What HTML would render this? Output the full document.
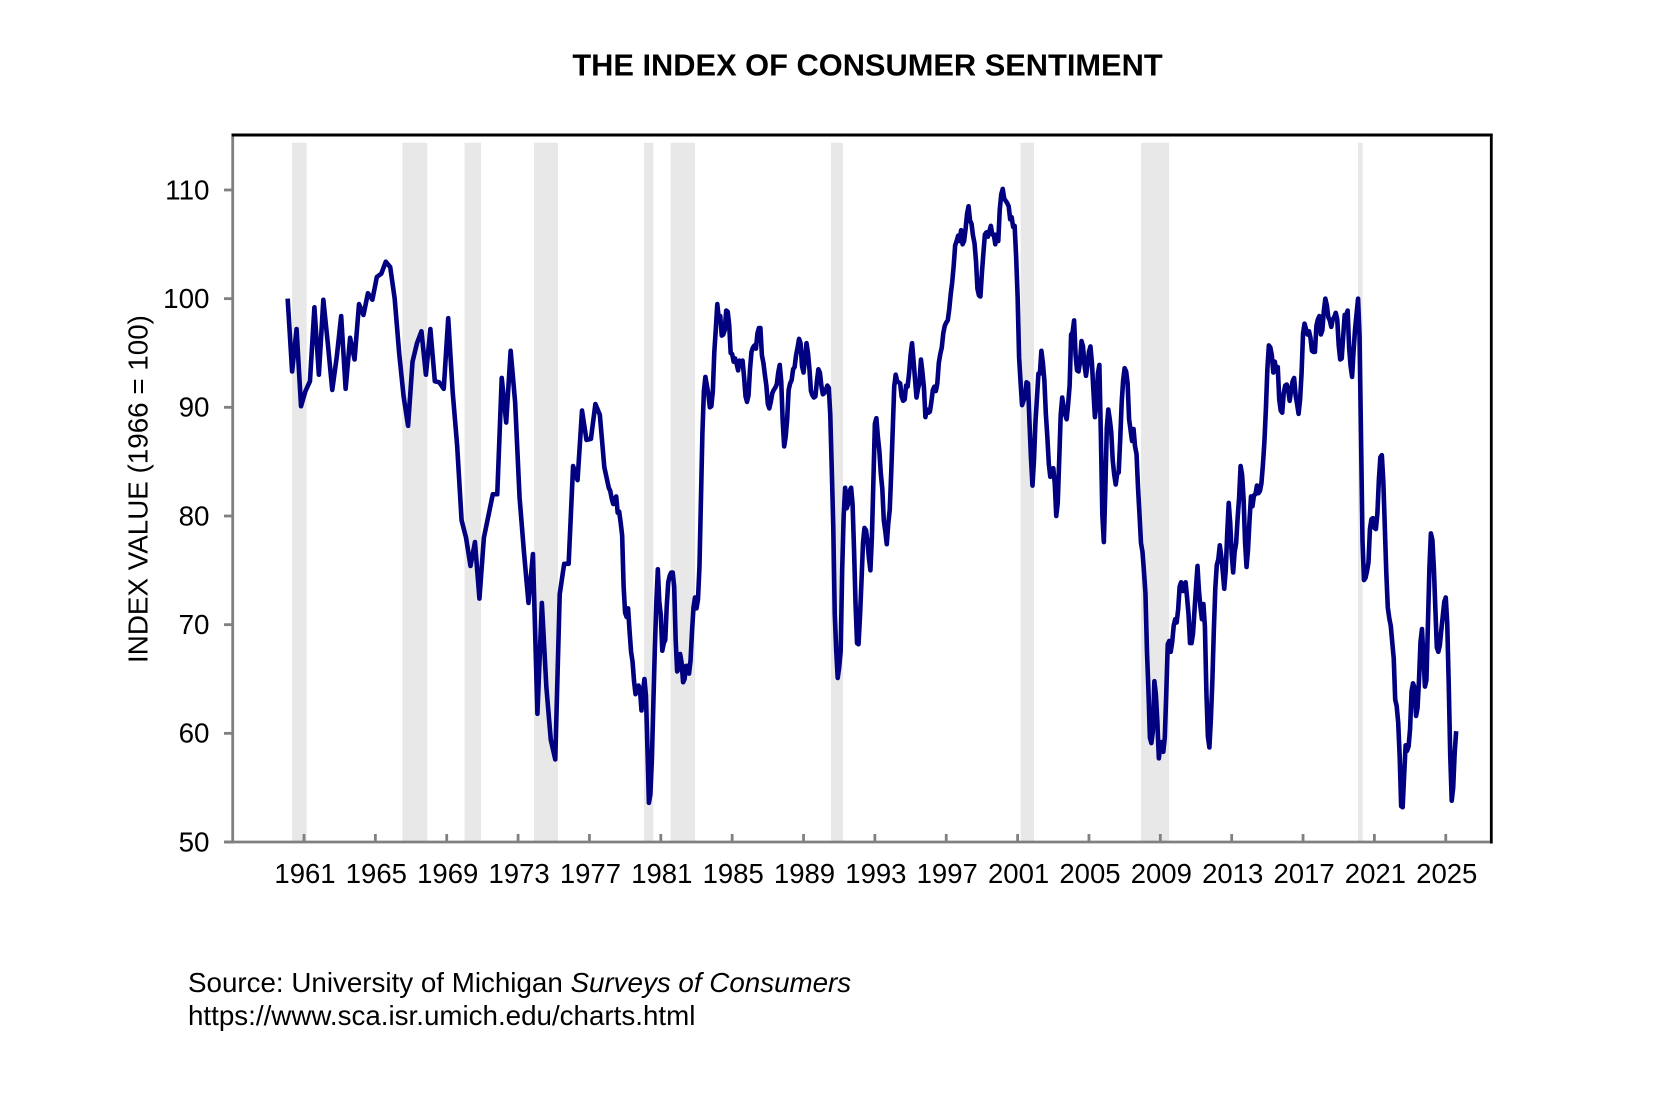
<!DOCTYPE html>
<html lang="en">
<head>
<meta charset="utf-8">
<title>The Index of Consumer Sentiment</title>
<style>
  html, body { margin: 0; padding: 0; background: #fff; }
  svg { display: block; font-family: "Liberation Sans", Arial, sans-serif; }
</style>
</head>
<body>
<svg id="chart" xmlns="http://www.w3.org/2000/svg" width="1672" height="1096" viewBox="0 0 1672 1096">
  <rect width="1672" height="1096" fill="#ffffff"/>
  <text x="867.5" y="75.5" text-anchor="middle" font-size="30.8" font-weight="700" fill="#000">THE INDEX OF CONSUMER SENTIMENT</text>
  <g id="bands"></g>
  <g id="axes"></g>
  <g id="series"></g>
  <text transform="translate(147.5,489) rotate(-90)" text-anchor="middle" font-size="27.8" fill="#000">INDEX VALUE (1966 = 100)</text>
  <text x="188" y="992" font-size="27.75" fill="#000">Source: University of Michigan <tspan font-style="italic">Surveys of Consumers</tspan></text>
  <text x="188" y="1025" font-size="27.75" fill="#000">https://www.sca.isr.umich.edu/charts.html</text>
</svg>
<script>
// Tick labels
const yearTicks = [1961,1965,1969,1973,1977,1981,1985,1989,1993,1997,2001,2005,2009,2013,2017,2021,2025];
const valueTicks = [50,60,70,80,90,100,110];

// Recession periods, decimal years
const recessionStarts = [1960.33,1966.51,1970.0,1973.89,1980.06,1981.55,1990.54,2001.17,2007.92,2020.08];
const recessionEnds   = [1961.15,1967.91,1970.92,1975.24,1980.58,1982.92,1991.21,2001.92,2009.49,2020.34];

// Index values, one per quarter from Feb 1960 to Feb 1978
const quarterlyValues = [
  100,93.3,97.2,90.1,91.5,92.4,99.2,93,99.9,95.9,91.6,94.6,98.4,91.7,96.4,94.4,
  99.5,98.5,100.5,99.9,102,102.3,103.4,102.9,100,95,91,88.3,94.2,95.9,97,93,
  97.2,92.4,92.3,91.7,98.2,91.4,86.5,79.6,78,75.4,77.6,72.4,78,80,82,82,
  92.7,88.6,95.2,90.5,81.7,76.6,72,76.5,61.8,72,64.3,59.4,57.6,72.8,75.6,75.6,
  84.6,83.3,89.7,87,87.1,90.3,89.3,84.5,82.6
];

// Index values, one per month from Mar 1978 to Aug 2025
const monthlyValues = [
  82.3,81.6,81.1,81.5,81.8,80.3,80.4,79.4,78.2,73.5,
  71.1,70.7,71.5,69.4,67.5,66.6,64.8,63.6,63.9,64.4,64.0,62.1,
  63.8,65.0,63.5,58.7,53.6,54.4,57.6,62.8,67.8,72.0,75.1,72.1,
  70.9,67.6,68.3,68.6,71.7,73.9,74.5,74.8,74.8,73.5,68.6,65.7,
  65.9,67.3,66.5,64.7,65.0,66.2,66.2,65.5,66.7,69.4,71.6,72.5,
  71.5,72.3,75.3,81.5,87.7,91.5,92.8,92.0,91.2,90.0,90.1,91.5,
  95.1,97.2,99.5,98.2,98.4,96.6,96.7,97.1,98.9,98.8,97.6,95.0,
  94.9,94.2,94.5,94.0,93.4,94.3,94.1,94.3,92.8,91.0,90.5,91.1,
  93.5,95.1,95.5,95.7,95.4,96.8,97.3,97.3,94.8,94.1,93.0,92.0,
  90.3,89.9,90.5,91.3,91.6,91.8,92.1,93.2,93.9,92.4,88.7,86.4,
  87.3,88.9,91.6,92.2,92.5,93.5,93.7,94.8,95.5,96.3,95.9,93.8,
  93.2,94.5,95.9,95.0,93.5,91.5,91.1,90.9,91.0,92.4,93.5,93.2,
  92.0,91.2,91.3,91.6,92.0,91.8,89.3,84.3,79.1,71.0,67.6,65.1,
  66.1,67.6,75.0,80.0,82.6,80.7,81.1,82.3,82.6,81.1,76.8,71.9,
  68.3,68.2,70.8,74.0,77.5,78.9,78.7,77.7,76.1,75.0,78.1,83.2,
  88.5,89.0,87.3,86.0,83.9,82.5,79.6,78.6,77.4,79.3,80.6,84.0,
  87.9,91.9,93.0,92.4,92.3,92.2,91.0,90.6,90.7,92.0,91.9,93.1,
  94.8,95.9,94.3,92.6,90.9,91.7,92.3,94.4,93.2,91.8,89.1,89.8,
  89.5,89.6,90.5,91.6,91.9,91.5,92.2,94.1,94.9,95.5,96.8,97.5,
  97.8,98.0,99.0,100.4,101.5,103.0,104.9,105.3,105.8,105.3,106.3,105.0,
  105.3,106.4,107.8,108.5,107.2,106.9,105.8,105.1,103.5,100.9,100.3,100.2,
  102.4,104.2,105.9,106.1,105.7,106.2,106.7,105.9,105.9,105.0,105.9,105.3,
  108.2,109.6,110.1,109.2,109.0,108.8,108.5,107.3,107.5,106.6,106.7,103.9,
  100.2,94.6,92.3,90.2,90.6,91.0,92.3,92.2,88.6,85.3,82.8,85.1,
  88.6,90.8,93.1,93.1,95.2,94.1,92.5,89.4,87.3,84.8,83.6,83.8,
  84.4,83.0,80.0,81.2,85.2,89.3,90.9,90.0,89.3,88.9,90.3,92.0,
  96.7,96.9,98.0,94.8,93.4,93.3,94.2,96.1,95.6,93.9,92.9,93.9,
  95.1,95.6,94.1,91.5,89.1,90.2,93.1,93.9,87.5,80.1,77.6,82.4,
  88.1,89.8,88.9,87.7,85.1,83.8,82.9,83.9,84.0,87.0,90.4,92.5,
  93.6,93.3,92.2,88.9,87.9,86.9,88.0,86.4,85.7,82.6,80.1,77.5,
  76.7,74.9,72.9,67.6,64.0,59.6,59.1,60.2,64.8,63.6,61.1,57.7,
  58.9,59.2,58.3,59.6,63.7,68.2,68.5,67.5,68.4,69.9,70.5,70.2,
  71.4,73.5,73.9,73.1,73.1,73.9,72.5,70.9,68.3,68.3,69.2,71.3,
  73.4,75.4,73.1,71.6,70.5,71.9,69.8,63.7,59.7,58.7,61.3,64.8,
  69.5,73.4,75.5,76.0,77.3,76.3,74.9,73.3,75.0,78.4,81.2,79.4,
  76.5,74.8,76.7,77.5,79.8,81.7,84.6,83.8,81.6,77.6,75.3,76.9,
  79.6,81.8,80.9,81.9,82.0,82.8,82.1,82.3,83.0,84.7,86.8,89.8,
  93.5,95.7,95.5,94.8,93.2,94.2,93.3,93.7,90.7,89.7,89.5,91.3,
  92.0,92.1,91.6,90.6,91.6,92.4,92.7,91.1,90.3,89.4,90.7,93.1,
  96.8,97.7,97.2,96.7,97.0,96.4,95.2,95.1,95.1,97.5,98.1,98.4,
  96.7,97.1,98.9,100.0,99.4,98.3,98.0,97.4,98.1,98.3,98.7,98.1,
  95.7,94.4,94.5,96.5,98.5,98.5,98.9,95.5,93.8,92.8,95.2,97.2,
  98.6,100.0,96.6,87.3,77.7,74.1,74.3,74.9,75.7,78.8,79.7,79.8,
  78.9,78.8,80.2,83.3,85.4,85.6,83.2,79.0,74.8,71.6,70.6,69.9,
  68.4,66.9,63.1,62.5,61.0,57.9,53.3,53.2,56.1,58.9,58.4,58.8,
  60.4,63.9,64.6,64.2,61.6,62.3,64.9,68.4,69.6,67.0,64.3,64.9,
  70.0,75.2,78.4,77.8,75.2,71.5,67.9,67.5,68.1,69.5,70.8,72.1,
  72.5,70.1,64.5,58.0,53.8,55.0,58.2,60.2
];

const SVG_NS = 'http://www.w3.org/2000/svg';

// Axis functions
function xScale(year) { return 304 + (year - 1961) * 17.84; }
function yScale(value) { return 842 - (value - 50) * 10.867; }

function make(tag, attrs, parent) {
  const el = document.createElementNS(SVG_NS, tag);
  for (const k in attrs) el.setAttribute(k, attrs[k]);
  parent.appendChild(el);
  return el;
}

const bandsGroup = document.getElementById('bands');
const axesGroup = document.getElementById('axes');
const seriesGroup = document.getElementById('series');

recessionStarts.forEach(function (start, i) {
  const x0 = xScale(start);
  const x1 = xScale(recessionEnds[i]);
  const band = make('rect', { x: x0, y: 142.7, width: x1 - x0, height: 698.3, fill: '#e8e8e8' }, bandsGroup);
  
  
});

const frameTop = make('line', { x1: 231.5, y1: 135, x2: 1492.6, y2: 135, stroke: '#000', 'stroke-width': 3 }, axesGroup);



const frameRight = make('line', { x1: 1491.3, y1: 133.5, x2: 1491.3, y2: 843.5, stroke: '#000', 'stroke-width': 2.8 }, axesGroup);



const yAxisLine = make('line', { x1: 232.7, y1: 136.5, x2: 232.7, y2: 843.4, stroke: '#808080', 'stroke-width': 2.8 }, axesGroup);



const xAxisLine = make('line', { x1: 224, y1: yScale(50), x2: 1490, y2: yScale(50), stroke: '#808080', 'stroke-width': 2.8 }, axesGroup);



valueTicks.forEach(function (v) {
  const y = yScale(v);
  const tick = make('line', { x1: 224, y1: y, x2: 232.7, y2: y, stroke: '#808080', 'stroke-width': 2.8 }, axesGroup);
  
  
  const label = make('text', { x: 209.5, y: y + 9.3, 'text-anchor': 'end', 'font-size': 27.8, fill: '#000' }, axesGroup);
  
  
  label.textContent = v;
});

yearTicks.forEach(function (yr) {
  const x = xScale(yr);
  const tick = make('line', { x1: x, y1: 834, x2: x, y2: 842, stroke: '#808080', 'stroke-width': 2.8 }, axesGroup);
  
  
  const label = make('text', { x: x + 1, y: 883, 'text-anchor': 'middle', 'font-size': 27.5, fill: '#000' }, axesGroup);
  
  
  label.textContent = yr;
});

const pathParts = [];
quarterlyValues.forEach(function (v, i) {
  const t = 1960 + 1 / 12 + i / 4;
  pathParts.push(xScale(t).toFixed(2) + ',' + yScale(v).toFixed(2));
});
monthlyValues.forEach(function (v, i) {
  const t = 1978 + 2 / 12 + i / 12;
  pathParts.push(xScale(t).toFixed(2) + ',' + yScale(v).toFixed(2));
});
const sentimentLine = make('path', {
  d: 'M' + pathParts.join('L'),
  fill: 'none',
  stroke: '#000080',
  'stroke-width': 4.6,
  'stroke-linejoin': 'round',
  'stroke-linecap': 'butt'
}, seriesGroup);


</script>
</body>
</html>
